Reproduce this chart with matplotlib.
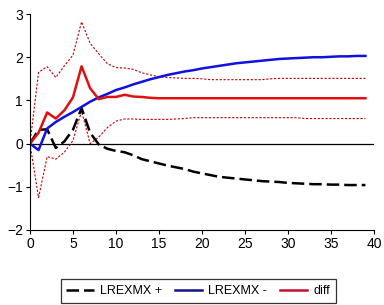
import numpy as np
import matplotlib
matplotlib.use("Agg")
import matplotlib.pyplot as plt

plt.rcParams['font.family'] = ['Liberation Sans Narrow', 'Liberation Sans', 'DejaVu Sans']

# Orizzonte (periodi)
periodi = np.arange(40)

# Moltiplicatore dinamico positivo (LREXMX +)
lrexmx_pos = [0.0, 0.32, 0.33, -0.10, 0.05, 0.32, 0.82, 0.25, -0.02, -0.12,
              -0.17, -0.20, -0.27, -0.36, -0.41, -0.46, -0.51, -0.55, -0.59, -0.65,
              -0.69, -0.73, -0.77, -0.79, -0.81, -0.83, -0.85, -0.87, -0.88, -0.89,
              -0.91, -0.92, -0.93, -0.94, -0.94, -0.95, -0.95, -0.96, -0.96, -0.96]

# Moltiplicatore dinamico negativo (LREXMX -)
lrexmx_neg = [0.0, -0.15, 0.35, 0.50, 0.62, 0.73, 0.85, 0.97, 1.07, 1.15,
              1.24, 1.30, 1.37, 1.43, 1.49, 1.54, 1.59, 1.63, 1.67, 1.70,
              1.74, 1.77, 1.80, 1.83, 1.86, 1.88, 1.90, 1.92, 1.94, 1.96,
              1.97, 1.98, 1.99, 2.00, 2.00, 2.01, 2.02, 2.02, 2.03, 2.03]

# Differenza (asimmetria) e bande di confidenza
diff = [0.0, 0.25, 0.72, 0.58, 0.77, 1.07, 1.79, 1.28, 1.03, 1.08,
        1.08, 1.13, 1.09, 1.08, 1.06, 1.05, 1.05, 1.05, 1.05, 1.05,
        1.05, 1.05, 1.05, 1.05, 1.05, 1.05, 1.05, 1.05, 1.05, 1.05,
        1.05, 1.05, 1.05, 1.05, 1.05, 1.05, 1.05, 1.05, 1.05, 1.05]

diff_up = [0.0, 1.65, 1.78, 1.53, 1.80, 2.05, 2.82, 2.32, 2.08, 1.85,
           1.76, 1.75, 1.72, 1.64, 1.59, 1.55, 1.53, 1.52, 1.51, 1.51,
           1.50, 1.48, 1.48, 1.48, 1.48, 1.48, 1.48, 1.48, 1.50, 1.51,
           1.51, 1.51, 1.51, 1.51, 1.51, 1.51, 1.51, 1.51, 1.51, 1.51]

diff_low = [0.0, -1.25, -0.30, -0.36, -0.20, 0.07, 0.75, 0.0, 0.15, 0.37,
            0.52, 0.57, 0.57, 0.56, 0.56, 0.56, 0.56, 0.57, 0.58, 0.60,
            0.60, 0.60, 0.60, 0.60, 0.60, 0.60, 0.60, 0.60, 0.60, 0.60,
            0.60, 0.60, 0.58, 0.58, 0.58, 0.58, 0.58, 0.58, 0.58, 0.58]

fig = plt.figure(figsize=(3.84, 3.05), dpi=100)
ax = fig.add_axes([0.078, 0.246, 0.896, 0.708])

ax.axhline(0, color='black', lw=0.9)
ax.plot(periodi, diff_up, color='#c00000', lw=0.8, ls=(0, (2, 1.5)))
ax.plot(periodi, diff_low, color='#c00000', lw=0.8, ls=(0, (2, 1.5)))
l1, = ax.plot(periodi, lrexmx_pos, color='black', lw=1.8, ls=(0, (5, 2)))
l2, = ax.plot(periodi, lrexmx_neg, color='#1010e0', lw=1.8)
l3, = ax.plot(periodi, diff, color='#e01010', lw=1.8)

ax.set_xlim(0, 40)
ax.set_ylim(-2, 3)
ax.set_xticks(range(0, 41, 5))
ax.set_yticks(range(-2, 4))
ax.spines['top'].set_visible(False)
ax.spines['right'].set_visible(False)
ax.tick_params(direction='out', length=3, labelsize=10, pad=2)

# Legenda sotto il grafico (linee della legenda con colori più scuri come nell'originale)
leg = fig.legend([l1, l2, l3], ['LREXMX +', 'LREXMX -', 'diff'], loc='center',
                 bbox_to_anchor=(0.516, 0.046), ncol=3, fontsize=9, frameon=True,
                 fancybox=False, edgecolor='black', handlelength=2.2, columnspacing=1.0,
                 handletextpad=0.5, borderpad=0.45)
leg.get_frame().set_linewidth(0.9)
leg_lines = leg.get_lines()
leg_lines[1].set_color('#101090')
leg_lines[2].set_color('#c01030')

fig.savefig('out.png', dpi=100)
